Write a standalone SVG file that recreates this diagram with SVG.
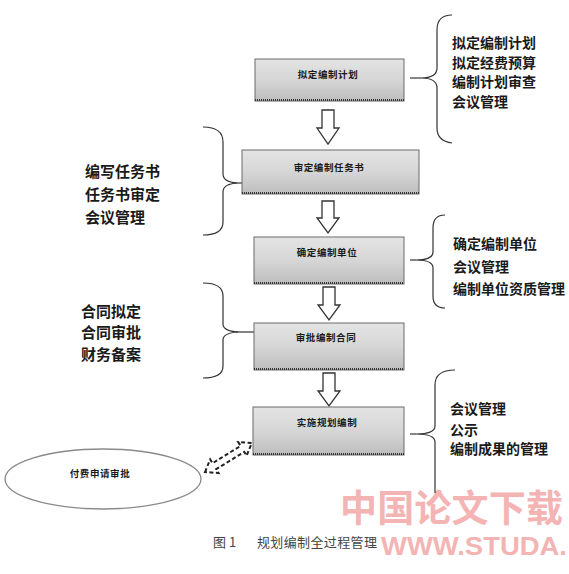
<svg xmlns="http://www.w3.org/2000/svg" width="569" height="574" viewBox="0 0 569 574">
<defs>
<linearGradient id="boxg" x1="0" y1="0" x2="0" y2="1">
<stop offset="0" stop-color="#e4e4e4"/>
<stop offset="0.5" stop-color="#d6d6d6"/>
<stop offset="1" stop-color="#bdbdbd"/>
</linearGradient>
<style>
.box{fill:url(#boxg);stroke:#6a6a6a;stroke-width:1}
.edge{stroke:#333;stroke-width:2;stroke-dasharray:1 1;fill:none}
.bt{font-family:"Noto Sans CJK SC","Liberation Sans",sans-serif;font-size:9.5px;font-weight:bold;fill:#1a1a1a;text-anchor:middle;letter-spacing:0.6px}
.st{font-family:"Noto Sans CJK SC","Liberation Sans",sans-serif;font-size:14px;font-weight:bold;fill:#1a1a1a}
.brace{fill:none;stroke:#333;stroke-width:1.2}
.arr{fill:#fff;stroke:#333;stroke-width:1.3}
.cap{font-family:"Noto Sans CJK SC","Liberation Sans",sans-serif;font-size:13px;fill:#444}
</style>
</defs>
<rect width="569" height="574" fill="#fff"/>

<g id="watermark">
<text x="340" y="522" font-family="'Noto Sans CJK SC',sans-serif" font-size="37" font-weight="bold" fill="#f4b4b4" textLength="223" lengthAdjust="spacing">中国论文下载</text>
<text x="381" y="555" font-family="'Liberation Sans',sans-serif" font-size="26" font-weight="bold" fill="#f4b4b4" textLength="186" lengthAdjust="spacingAndGlyphs">WWW.STUDA.</text>
</g>

<g id="connectors">
<polygon class="arr" points="322,110 334,110 334,128 339,128 328,144 317,128 322,128"/>
<polygon class="arr" points="322,201 334,201 334,218 339,218 328,233 317,218 322,218"/>
<polygon class="arr" points="323,287 335,287 335,305 340,305 329,320 318,305 323,305"/>
<polygon class="arr" points="323,373 335,373 335,391 340,391 329,406 318,391 323,391"/>
<g transform="translate(205,472) rotate(-31.7)">
<polygon points="0,0 11,-8 11,-3.5 44,-3.5 44,-8 55,0 44,8 44,3.5 11,3.5 11,8" fill="#fff" stroke="#222" stroke-width="2" stroke-dasharray="4 2.5"/>
</g>
<path class="brace" d="M452,15 Q437,15 437,30 L437,68 Q437,78 421,78 Q437,78 437,88 L437,128 Q437,141 452,143"/>
<line class="brace" x1="410" y1="78" x2="421" y2="78"/>
<path class="brace" d="M203,127 Q223,127 223,142 L223,174 Q223,182 237,183 Q223,184 223,192 L223,222 Q223,235 203,235"/>
<line class="brace" x1="232" y1="183" x2="242" y2="183"/>
<path class="brace" d="M445,215 Q433,215 433,228 L433,252 Q433,260 416,260 Q433,260 433,268 L433,296 Q433,308 445,308"/>
<line class="brace" x1="410" y1="260" x2="416" y2="260"/>
<path class="brace" d="M203,283 Q223,283 223,296 L223,324 Q223,331 238,332 Q223,333 223,340 L223,366 Q223,378 203,378"/>
<line class="brace" x1="236" y1="332" x2="254" y2="332"/>
<path class="brace" d="M455,370 Q435,370 435,385 L435,426 Q435,434 416,434 Q435,434 435,442 L435,493"/>
<line class="brace" x1="410" y1="434" x2="416" y2="434"/>
</g>

<g id="n1">
<rect class="box" x="255" y="59" width="149" height="42"/>
<line class="edge" x1="255" y1="100" x2="404" y2="100"/>
<text class="bt" x="328" y="78">拟定编制计划</text>
</g>
<g id="n2">
<rect class="box" x="242" y="150" width="177" height="44"/>
<line class="edge" x1="242" y1="193" x2="419" y2="193"/>
<text class="bt" x="329" y="171">审定编制任务书</text>
</g>
<g id="n3">
<rect class="box" x="254" y="237" width="150" height="47"/>
<line class="edge" x1="254" y1="283" x2="404" y2="283"/>
<text class="bt" x="327" y="256">确定编制单位</text>
</g>
<g id="n4">
<rect class="box" x="254" y="323" width="150" height="47"/>
<line class="edge" x1="254" y1="369" x2="404" y2="369"/>
<text class="bt" x="326" y="341">审批编制合同</text>
</g>
<g id="n5">
<rect class="box" x="253" y="407" width="151" height="48"/>
<line class="edge" x1="253" y1="454" x2="404" y2="454"/>
<text class="bt" x="327" y="426">实施规划编制</text>
</g>
<g id="n6">
<ellipse cx="103" cy="479" rx="98" ry="30" fill="#fff" stroke="#8a8a8a" stroke-width="1.3"/>
<text class="bt" x="100" y="477">付费申请审批</text>
</g>

<g id="t1" class="st">
<text x="452" y="48">拟定编制计划</text>
<text x="452" y="68">拟定经费预算</text>
<text x="452" y="87">编制计划审查</text>
<text x="452" y="107">会议管理</text>
</g>
<g id="t2" class="st">
<text x="85" y="177" style="font-size:15px">编写任务书</text>
<text x="85" y="200" style="font-size:15px">任务书审定</text>
<text x="85" y="223" style="font-size:15px">会议管理</text>
</g>
<g id="t3" class="st">
<text x="453" y="249">确定编制单位</text>
<text x="453" y="272">会议管理</text>
<text x="453" y="294">编制单位资质管理</text>
</g>
<g id="t4" class="st">
<text x="81" y="317" style="font-size:15px">合同拟定</text>
<text x="81" y="338" style="font-size:15px">合同审批</text>
<text x="81" y="360" style="font-size:15px">财务备案</text>
</g>
<g id="t5" class="st">
<text x="450" y="414">会议管理</text>
<text x="450" y="435">公示</text>
<text x="450" y="454">编制成果的管理</text>
</g>

<g id="caption">
<text class="cap" x="213" y="547">图 1</text>
<text class="cap" x="257" y="547" textLength="120" lengthAdjust="spacing">规划编制全过程管理</text>
</g>
</svg>
